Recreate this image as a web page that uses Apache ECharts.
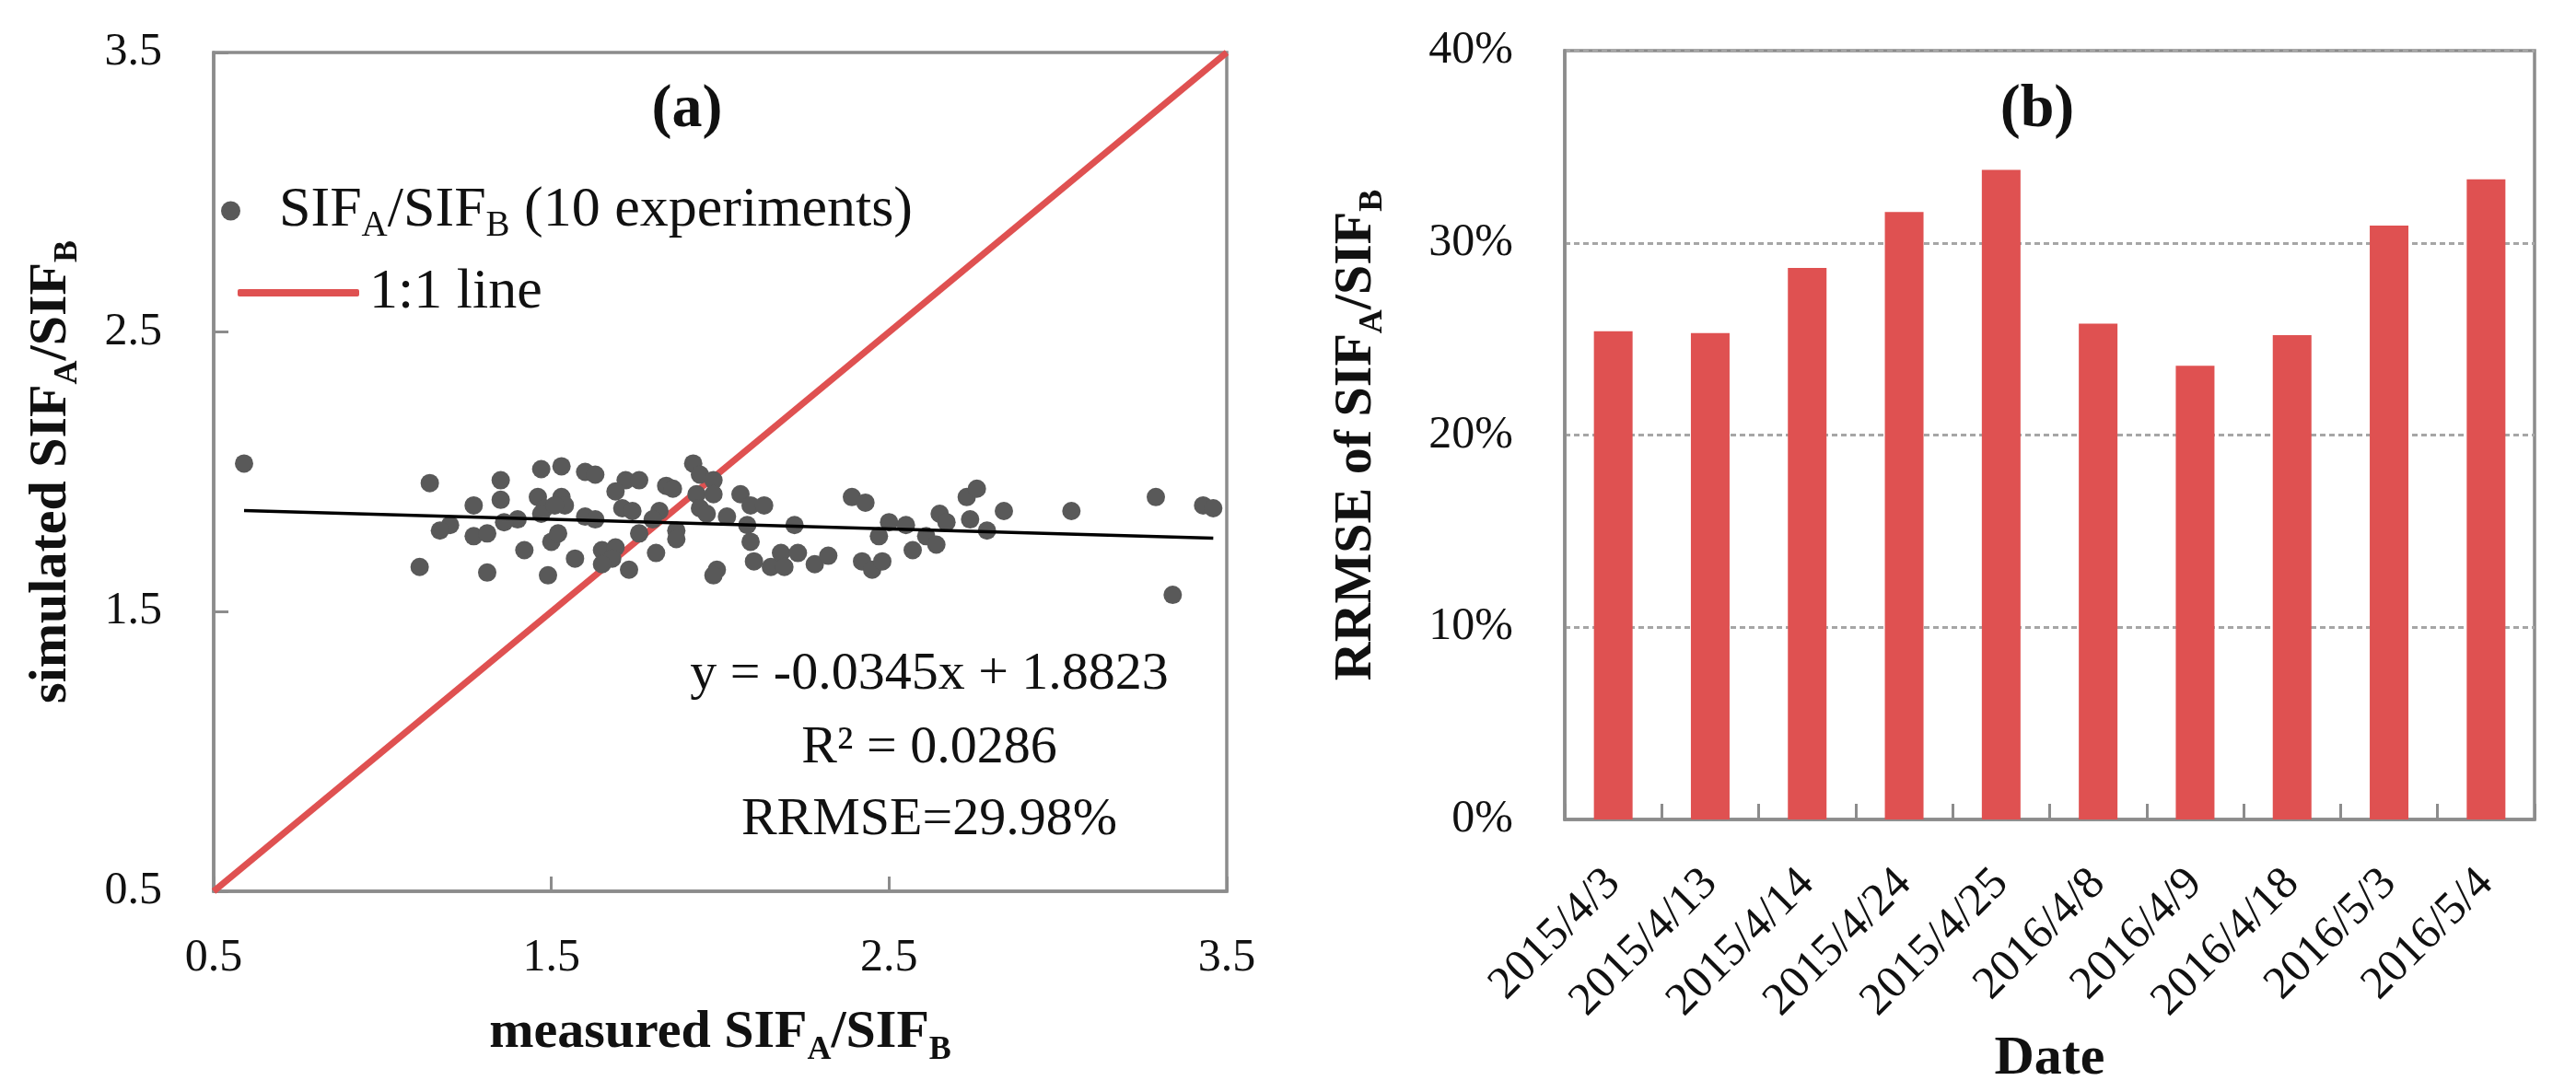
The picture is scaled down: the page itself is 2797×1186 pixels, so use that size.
<!DOCTYPE html>
<html>
<head>
<meta charset="utf-8">
<script src="https://cdn.jsdelivr.net/npm/echarts@6/dist/echarts.min.js"></script>
<style>
html,body{margin:0;padding:0;background:#fff;}
#chart{width:2797px;height:1186px;}
</style>
</head>
<body>
<div id="chart"></div>
<script>
// ---------- data ----------
const measured = [
  0.59, 1.14, 1.35, 1.35, 1.27, 1.47, 1.46, 1.48, 1.47, 1.40, 1.36, 1.20, 1.17, 1.27, 1.31, 1.42, 1.50, 1.11, 1.31, 1.49,
  1.53, 1.60, 1.63, 1.72, 1.76, 1.69, 1.84, 1.86, 1.92, 1.94, 1.98, 1.93, 1.98, 1.94, 1.96, 1.53, 1.54, 1.51, 1.71, 1.74,
  1.60, 1.63, 1.82, 1.80, 1.76, 1.87, 1.87, 1.52, 1.81, 1.65, 1.69, 1.68, 1.65, 1.57, 1.73, 1.99, 1.98,
  2.06, 2.09, 2.13, 2.02, 2.08, 2.09, 2.10, 2.15, 2.18, 2.19, 2.23, 2.28, 2.32, 2.22, 2.39, 2.43, 2.47, 2.50, 2.42, 2.45, 2.48,
  2.55, 2.65, 2.67, 2.61, 2.64, 2.57, 2.73, 2.76, 2.74, 2.79, 2.84, 3.04, 3.29, 3.43, 3.46, 3.34
];
const simulated = [
  2.03, 1.96, 1.97, 1.90, 1.88, 2.01, 1.91, 1.87, 1.85, 1.83, 1.82, 1.81, 1.79, 1.77, 1.78, 1.72, 1.75, 1.66, 1.64, 1.63,
  2.02, 2.00, 1.99, 1.97, 1.97, 1.93, 1.95, 1.94, 2.03, 1.99, 1.97, 1.92, 1.92, 1.87, 1.85, 1.91, 1.88, 1.88, 1.87, 1.86,
  1.84, 1.83, 1.86, 1.83, 1.78, 1.79, 1.76, 1.78, 1.71, 1.72, 1.73, 1.69, 1.67, 1.69, 1.65, 1.65, 1.63,
  1.92, 1.88, 1.88, 1.84, 1.81, 1.75, 1.68, 1.66, 1.71, 1.66, 1.71, 1.67, 1.70, 1.81, 1.91, 1.89, 1.77, 1.82, 1.68, 1.65, 1.68,
  1.81, 1.85, 1.82, 1.77, 1.74, 1.72, 1.91, 1.94, 1.83, 1.79, 1.86, 1.86, 1.91, 1.88, 1.87, 1.56
];
const oneToOneX = [0.5, 3.5];
const oneToOneY = [0.5, 3.5];
const trendX = [0.59, 3.46];
const trendY = [1.862, 1.763];
const scatterTicks = [0.5, 1.5, 2.5, 3.5];

const dates = ['2015/4/3','2015/4/13','2015/4/14','2015/4/24','2015/4/25','2016/4/8','2016/4/9','2016/4/18','2016/5/3','2016/5/4'];
const rrmse = [25.4, 25.3, 28.7, 31.6, 33.8, 25.8, 23.6, 25.2, 30.9, 33.3];

const eqLines = ['y = -0.0345x + 1.8823', 'R\u00B2 = 0.0286', 'RRMSE=29.98%'];

// ---------- style ----------
const FONT = "'Liberation Serif', 'Times New Roman', serif";
const GRAY = '#8c8c8c';
const RED = '#DF5151';
const DOT = '#595959';
const TXT = '#111111';

function richName(size, subSize) {
  return {
    b: {fontFamily: FONT, fontWeight: 'bold', fontSize: size, color: TXT, lineHeight: size * 1.25},
    s: {fontFamily: FONT, fontWeight: 'bold', fontSize: subSize, color: TXT, verticalAlign: 'bottom'}
  };
}

const chart = echarts.init(document.getElementById('chart'), null, {renderer: 'canvas'});

const option = {
  backgroundColor: '#ffffff',
  animation: false,
  grid: [
    {left: 232, top: 57, width: 1100, height: 911, show: true, borderColor: GRAY, borderWidth: 3.5, backgroundColor: 'transparent'},
    {left: 1699, top: 55, width: 1053, height: 835, show: true, borderColor: GRAY, borderWidth: 3.5, backgroundColor: 'transparent'}
  ],
  xAxis: [
    {
      type: 'value', gridIndex: 0, min: scatterTicks[0], max: scatterTicks[scatterTicks.length - 1], interval: 1,
      axisLine: {show: true, lineStyle: {color: GRAY, width: 3.5}},
      axisTick: {show: true, inside: true, length: 16, lineStyle: {color: GRAY, width: 3}},
      splitLine: {show: false},
      axisLabel: {margin: 48, fontFamily: FONT, fontSize: 50, color: TXT, formatter: v => v.toFixed(1)},
      name: '{b|measured SIF}{s|A}{b|/SIF}{s|B}',
      nameLocation: 'middle', nameGap: 118,
      nameTextStyle: {rich: richName(58, 36)}
    },
    {
      type: 'category', gridIndex: 1, data: dates, boundaryGap: true,
      axisLine: {show: true, lineStyle: {color: GRAY, width: 3.5}},
      axisTick: {show: true, inside: true, length: 17, interval: 0, lineStyle: {color: GRAY, width: 3}},
      axisLabel: {interval: 0, rotate: 45, margin: 62, fontFamily: FONT, fontSize: 50, color: TXT},
      name: 'Date', nameLocation: 'middle', nameGap: 228,
      nameTextStyle: {fontFamily: FONT, fontWeight: 'bold', fontSize: 60, color: TXT}
    }
  ],
  yAxis: [
    {
      type: 'value', gridIndex: 0, min: scatterTicks[0], max: scatterTicks[scatterTicks.length - 1], interval: 1,
      axisLine: {show: true, lineStyle: {color: GRAY, width: 3.5}},
      axisTick: {show: true, inside: true, length: 16, lineStyle: {color: GRAY, width: 3}},
      splitLine: {show: false},
      axisLabel: {margin: 56, fontFamily: FONT, fontSize: 50, color: TXT, formatter: v => v.toFixed(1)},
      name: '{b|simulated SIF}{s|A}{b|/SIF}{s|B}',
      nameLocation: 'middle', nameGap: 140, nameRotate: 90,
      nameTextStyle: {rich: richName(58, 36)}
    },
    {
      type: 'value', gridIndex: 1, min: 0, max: 40, interval: 10,
      axisLine: {show: true, lineStyle: {color: GRAY, width: 3.5}},
      axisTick: {show: false},
      splitLine: {show: true, lineStyle: {color: '#a6a6a6', width: 3, type: [6, 4]}},
      axisLabel: {margin: 56, fontFamily: FONT, fontSize: 50, color: TXT, formatter: '{value}%'},
      name: '{b|RRMSE of SIF}{s|A}{b|/SIF}{s|B}',
      nameLocation: 'middle', nameGap: 190, nameRotate: 90,
      nameTextStyle: {rich: richName(58, 36)}
    }
  ],
  legend: [
    {
      data: ['SIFA/SIFB (10 experiments)'],
      left: 240, top: 198, orient: 'vertical',
      itemWidth: 95, itemHeight: 21, padding: 0,
      formatter: () => '{n|SIF}{s|A}{n|/SIF}{s|B}{n| (10 experiments)}',
      textStyle: {
        rich: {
          n: {fontFamily: FONT, fontSize: 62, color: TXT, lineHeight: 72},
          s: {fontFamily: FONT, fontSize: 39, color: TXT, verticalAlign: 'bottom'}
        }
      }
    },
    {
      data: [{name: '1:1 line', icon: 'roundRect'}],
      left: 258, top: 282, orient: 'vertical',
      itemWidth: 132, itemHeight: 8, padding: 0,
      symbolKeepAspect: false,
      textStyle: {fontFamily: FONT, fontSize: 62, color: TXT, lineHeight: 72, padding: [0, 0, 0, 6]}
    }
  ],
  series: [
    {
      name: 'SIFA/SIFB (10 experiments)', type: 'scatter', xAxisIndex: 0, yAxisIndex: 0,
      data: measured.map((x, i) => [x, simulated[i]]),
      symbol: 'circle', symbolSize: 20,
      itemStyle: {color: DOT, opacity: 1},
      z: 3
    },
    {
      name: '1:1 line', type: 'line', xAxisIndex: 0, yAxisIndex: 0,
      data: oneToOneX.map((x, i) => [x, oneToOneY[i]]),
      symbol: 'none', lineStyle: {color: RED, width: 7}, itemStyle: {color: RED},
      z: 2
    },
    {
      name: 'trend', type: 'line', xAxisIndex: 0, yAxisIndex: 0,
      data: trendX.map((x, i) => [x, trendY[i]]),
      symbol: 'none', lineStyle: {color: '#000000', width: 3.5}, itemStyle: {color: '#000'},
      z: 4
    },
    {
      name: 'RRMSE', type: 'bar', xAxisIndex: 1, yAxisIndex: 1,
      data: rrmse, barWidth: 42,
      itemStyle: {color: RED}
    }
  ],
  graphic: [
    {type: 'text', x: 746, y: 120, style: {text: '(a)', fontFamily: FONT, fontWeight: 'bold', fontSize: 66, fill: TXT, align: 'center', verticalAlign: 'middle'}},
    {type: 'text', x: 2212, y: 120, style: {text: '(b)', fontFamily: FONT, fontWeight: 'bold', fontSize: 66, fill: TXT, align: 'center', verticalAlign: 'middle'}},
    {type: 'text', x: 1009, y: 733, style: {text: eqLines[0], fontFamily: FONT, fontSize: 58, fill: TXT, align: 'center', verticalAlign: 'middle'}},
    {type: 'text', x: 1009, y: 813, style: {text: eqLines[1], fontFamily: FONT, fontSize: 58, fill: TXT, align: 'center', verticalAlign: 'middle'}},
    {type: 'text', x: 1009, y: 891, style: {text: eqLines[2], fontFamily: FONT, fontSize: 58, fill: TXT, align: 'center', verticalAlign: 'middle'}}
  ]
};
chart.setOption(option);
</script>
</body>
</html>
